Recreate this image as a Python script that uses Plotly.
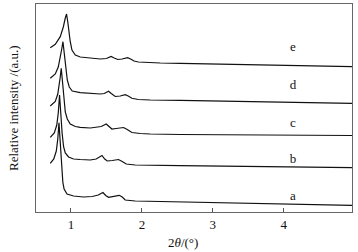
import plotly.graph_objects as go

# ---------------- DATA ---------------------------------------------------
labels = ['a', 'b', 'c', 'd', 'e']

x_a = [0.708, 0.758, 0.793, 0.814, 0.831, 0.849, 0.868, 0.885, 0.903, 0.944, 1.037, 1.177, 1.300, 1.385,
       1.451, 1.490, 1.530, 1.596, 1.680, 1.723, 1.765, 1.906, 2.117, 2.539, 3.948, 4.962]
y_a = [48.7, 53, 61, 73, 89.3, 67, 44, 30, 23, 18, 16, 15, 15.5, 17,
       19.5, 16.5, 14.7, 15.5, 16.7, 15, 12, 11, 10.7, 10.5, 8.5, 6.7]

x_b = [0.708, 0.765, 0.800, 0.821, 0.839, 0.856, 0.875, 0.896, 0.920, 0.966, 1.037, 1.131, 1.272, 1.356,
       1.437, 1.476, 1.511, 1.582, 1.670, 1.723, 1.779, 1.906, 2.117, 2.539, 4.962]
y_b = [74.7, 79, 87, 99, 117, 97, 79, 65.3, 59, 55, 53, 52.5, 52, 53,
       56.5, 53, 51, 51.5, 52.5, 50.5, 48, 47, 46.7, 46.3, 44.3]

x_c = [0.708, 0.779, 0.814, 0.835, 0.849, 0.863, 0.882, 0.899, 0.920, 0.948, 0.990, 1.061, 1.131, 1.272,
       1.370, 1.427, 1.497, 1.539, 1.577, 1.638, 1.741, 1.793, 1.859, 1.976, 2.117, 2.539, 4.962]
y_c = [106, 110.5, 118, 127, 135, 143.7, 127, 112, 100, 93, 88, 85.5, 84.7, 84,
       84.5, 85.5, 88, 85, 83, 83.5, 84.5, 82.5, 79.5, 78.5, 78, 77.5, 76.5]

x_d = [0.708, 0.779, 0.821, 0.849, 0.870, 0.887, 0.906, 0.927, 0.948, 0.976, 1.018, 1.131, 1.272, 1.413,
       1.469, 1.530, 1.568, 1.624, 1.694, 1.765, 1.807, 1.859, 1.948, 2.117, 2.539, 3.525, 4.962]
y_d = [133.7, 138, 145, 154, 163, 170.3, 157, 142, 132, 125, 121, 119.3, 118.5, 118,
       118.5, 120.8, 118.5, 115.5, 116, 117.3, 116, 113.7, 112.5, 112, 111.7, 110.5, 108.7]

x_e = [0.708, 0.779, 0.849, 0.892, 0.920, 0.938, 0.955, 0.970, 0.990, 1.014, 1.061, 1.131, 1.272, 1.413,
       1.500, 1.565, 1.610, 1.660, 1.720, 1.800, 1.840, 1.890, 1.950, 2.050, 2.260, 2.540, 3.200, 3.950, 4.962]
y_e = [164.3, 167.7, 175.3, 185, 194, 198, 190, 181, 170.3, 162, 157, 155, 153.7, 153,
       153.5, 155.5, 154, 152.5, 153, 154.3, 153, 151, 150, 149.5, 149, 148.7, 147.7, 146.7, 145.3]

label_x = [4.13, 4.13, 4.13, 4.13, 4.13]
label_y = [15.3, 52.7, 88, 126, 164.3]

x_ticks = [1, 2, 3, 4]

FONT = 'Liberation Serif'

# ---------------- BUILDING THE FIGURE -----------------------------
fig = go.Figure()
for xs, ys in [(x_a, y_a), (x_b, y_b), (x_c, y_c), (x_d, y_d), (x_e, y_e)]:
    fig.add_trace(go.Scatter(x=xs, y=ys, mode='lines',
                             line=dict(color='#111111', width=1.2), showlegend=False,
                             hoverinfo='skip'))

fig.add_trace(go.Scatter(x=label_x, y=label_y, mode='text', text=labels,
                         textfont=dict(family=FONT, size=13, color='#111111'),
                         showlegend=False, hoverinfo='skip'))

fig.update_layout(
    width=358, height=252,
    margin=dict(l=36, r=6, t=4, b=40),
    plot_bgcolor='white', paper_bgcolor='white',
    font=dict(family=FONT, size=13, color='#111111'),
)

fig.update_xaxes(range=[0.507, 4.962], tickvals=x_ticks, ticks='inside', ticklen=4,
                 tickcolor='#555555', showline=True, linecolor='#666666', linewidth=1,
                 mirror=True, showgrid=False, zeroline=False, automargin=False,
                 tickfont=dict(size=13))
fig.update_yaxes(range=[0, 208], showticklabels=False, ticks='',
                 showline=True, linecolor='#666666', linewidth=1, mirror=True,
                 showgrid=False, zeroline=False, automargin=False)

# axis titles placed as annotations
fig.add_annotation(text='2<i>θ</i>/(°)', xref='paper', yref='paper', x=0.465, y=0,
                   xanchor='center', yanchor='middle', yshift=-30,
                   showarrow=False, font=dict(size=13))
fig.add_annotation(text='Relative intensity /(a.u.)', xref='paper', yref='paper', x=0, y=0.5,
                   xanchor='center', yanchor='middle', xshift=-23, textangle=-90,
                   showarrow=False, font=dict(size=13))

# drop the default page margin so the figure sits at the window corner
fig.write_html('out.html', config={'displayModeBar': False},
               post_script="document.body.style.margin='0';")
